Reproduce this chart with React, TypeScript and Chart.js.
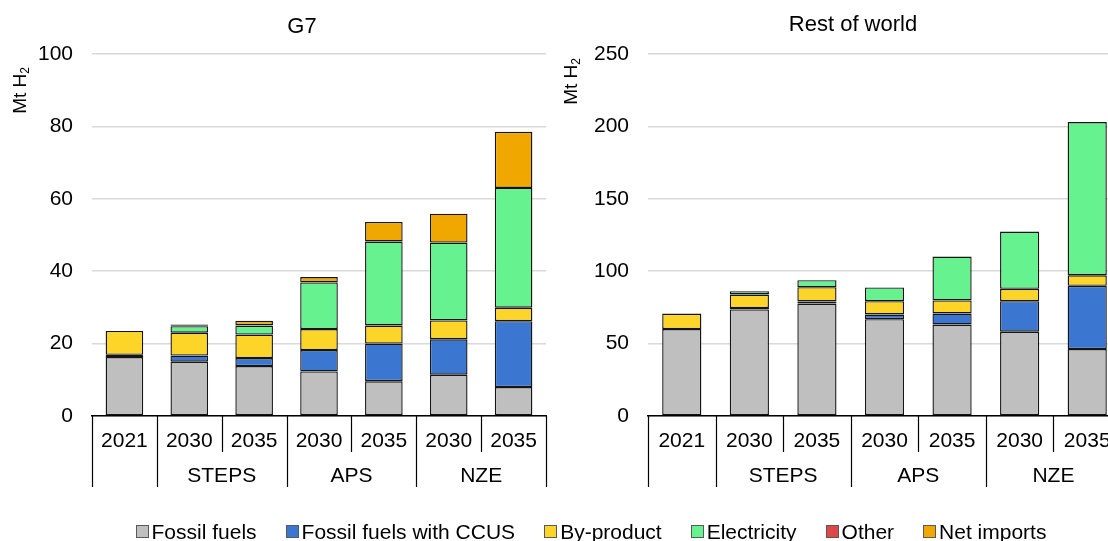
import React, { useEffect, useRef } from "react";
import { Chart, registerables } from "chart.js";

Chart.register(...registerables);

const FONT = "'Liberation Sans', Arial, sans-serif";

const years = ["2021", "2030", "2035", "2030", "2035", "2030", "2035"];
const scenarios = ["", "STEPS", "STEPS", "APS", "APS", "NZE", "NZE"];

const seriesNames = ["Fossil fuels", "Fossil fuels with CCUS", "By-product", "Electricity", "Other", "Net imports"];
const seriesColors = ["#bfbfbf", "#3b77d0", "#fdd428", "#66f28e", "#e04848", "#f0a800"];

// G7 (Mt H2)
const g7Fossil = [16.3, 15.0, 13.8, 12.3, 9.6, 11.4, 8.0];
const g7Ccus = [0.6, 1.7, 2.2, 5.9, 10.4, 9.8, 18.2];
const g7ByProduct = [6.6, 6.3, 6.5, 5.8, 5.0, 5.2, 3.7];
const g7Electricity = [0, 1.8, 2.5, 12.9, 23.2, 21.5, 33.1];
const g7Other = [0, 0.1, 0.1, 0, 0, 0, 0];
const g7NetImports = [0, 0.4, 1.2, 1.5, 5.4, 8.0, 15.5];

// Rest of world (Mt H2)
const rowFossil = [60.0, 73.6, 77.7, 66.9, 63.2, 58.2, 46.2];
const rowCcus = [0, 0.9, 1.4, 3.2, 7.6, 21.1, 43.7];
const rowByProduct = [10.8, 9.4, 9.9, 9.2, 9.0, 8.5, 7.3];
const rowElectricity = [0, 2.3, 4.8, 9.5, 30.3, 39.6, 105.8];
const rowOther = [0, 0, 0, 0, 0, 0, 0];
const rowNetImports = [0, 0, 0, 0, 0, 0, 0];

const g7Ticks = { max: 100, step: 20 };
const rowTicks = { max: 250, step: 50 };

type Panel = {
  title: string;
  series: number[][];
  yMax: number;
  yStep: number;
  axisWidth: number;
  padRight: number;
  titleX: number;
  titleY: number;
  yTitleX: number;
  yTitleTop: number;
};

function makePlugin(p: Panel) {
  return {
    id: "customDecor",
    afterDraw(chart: any) {
      const ctx = chart.ctx;
      const area = chart.chartArea;
      const xs = chart.scales.x;
      ctx.save();
      // title
      ctx.fillStyle = "#000";
      ctx.font = `22px ${FONT}`;
      ctx.textAlign = "center";
      ctx.textBaseline = "middle";
      ctx.fillText(p.title, p.titleX, p.titleY);

      // y axis title with subscript
      ctx.save();
      ctx.translate(p.yTitleX, p.yTitleTop);
      ctx.rotate(-Math.PI / 2);
      ctx.font = `19px ${FONT}`;
      const main = "Mt H";
      const w1 = ctx.measureText(main).width;
      ctx.font = `12px ${FONT}`;
      const w2 = ctx.measureText("2").width;
      const L = w1 + w2;
      ctx.textAlign = "left";
      ctx.textBaseline = "middle";
      ctx.font = `19px ${FONT}`;
      ctx.fillText(main, -L, 0);
      ctx.font = `12px ${FONT}`;
      ctx.fillText("2", -L + w1, 5);
      ctx.restore();

      // multi-level category axis
      const n = years.length;
      const edges: number[] = [];
      for (let i = 0; i <= n; i++) {
        if (i === 0) edges.push(area.left);
        else if (i === n) edges.push(area.right);
        else edges.push((xs.getPixelForValue(i - 1) + xs.getPixelForValue(i)) / 2);
      }
      ctx.strokeStyle = "#000";
      ctx.lineWidth = 1.2;
      for (let i = 0; i <= n; i++) {
        const full = i === 0 || i === n || scenarios[i] !== scenarios[i - 1];
        const x = Math.round(edges[i]) + 0.5;
        ctx.beginPath();
        ctx.moveTo(x, area.bottom);
        ctx.lineTo(x, area.bottom + (full ? 71 : 36));
        ctx.stroke();
      }
      ctx.font = `21px ${FONT}`;
      ctx.textAlign = "center";
      ctx.textBaseline = "middle";
      ctx.fillStyle = "#000";
      for (let i = 0; i < n; i++) {
        ctx.fillText(years[i], (edges[i] + edges[i + 1]) / 2, area.bottom + 25);
      }
      let start = 0;
      for (let i = 1; i <= n; i++) {
        if (i === n || scenarios[i] !== scenarios[start]) {
          if (scenarios[start]) {
            ctx.fillText(scenarios[start], (edges[start] + edges[i]) / 2, area.bottom + 60);
          }
          start = i;
        }
      }
      ctx.restore();
    },
  };
}

function PanelChart({ p, left, width }: { p: Panel; left: number; width: number }) {
  const ref = useRef<HTMLCanvasElement | null>(null);
  useEffect(() => {
    if (!ref.current) return;
    const chart = new Chart(ref.current, {
      type: "bar",
      data: {
        labels: years,
        datasets: seriesNames.map((name, k) => ({
          label: name,
          data: p.series[k],
          backgroundColor: seriesColors[k],
          borderColor: "#151515",
          borderWidth: 1.4,
          borderSkipped: false,
          barPercentage: 0.58,
          categoryPercentage: 1,
        })),
      },
      options: {
        animation: false,
        responsive: false,
        layout: { padding: { top: 54, bottom: 45, left: 0, right: p.padRight } },
        plugins: {
          legend: { display: false },
          title: { display: false },
          tooltip: { enabled: false },
        },
        scales: {
          x: {
            stacked: true,
            grid: { display: false },
            border: { display: true, color: "#000", width: 1.5 },
            ticks: { display: false },
            afterFit: (s: any) => {
              s.height = 80;
            },
          },
          y: {
            stacked: true,
            min: 0,
            max: p.yMax,
            ticks: {
              stepSize: p.yStep,
              padding: 19,
              color: "#000",
              font: { size: 21, family: FONT },
            },
            grid: { color: "#d9d9d9", lineWidth: 1.5, drawTicks: false },
            border: { display: false },
            afterFit: (s: any) => {
              s.width = p.axisWidth;
            },
          },
        },
      },
      plugins: [makePlugin(p)],
    } as any);
    return () => chart.destroy();
  }, []);
  return (
    <canvas
      ref={ref}
      width={width}
      height={541}
      style={{ position: "absolute", left, top: 0, width, height: 541 }}
    />
  );
}

const g7Panel: Panel = {
  title: "G7",
  series: [g7Fossil, g7Ccus, g7ByProduct, g7Electricity, g7Other, g7NetImports],
  yMax: g7Ticks.max,
  yStep: g7Ticks.step,
  axisWidth: 92,
  padRight: 14,
  titleX: 302,
  titleY: 27,
  yTitleX: 21,
  yTitleTop: 67,
};

const rowPanel: Panel = {
  title: "Rest of world",
  series: [rowFossil, rowCcus, rowByProduct, rowElectricity, rowOther, rowNetImports],
  yMax: rowTicks.max,
  yStep: rowTicks.step,
  axisWidth: 93,
  padRight: 14,
  titleX: 298,
  titleY: 25,
  yTitleX: 17,
  yTitleTop: 58,
};

export default function App() {
  return (
    <div
      style={{
        position: "fixed",
        left: 0,
        top: 0,
        width: 1108,
        height: 541,
        overflow: "hidden",
        background: "#fff",
      }}
    >
      <PanelChart p={g7Panel} left={0} width={560} />
      <PanelChart p={rowPanel} left={555} width={580} />
      <div
        style={{
          position: "absolute",
          left: 0,
          top: 521,
          width: 1182,
          display: "flex",
          justifyContent: "center",
          gap: 29,
          fontFamily: FONT,
          fontSize: 21,
          lineHeight: "21px",
          color: "#000",
          whiteSpace: "nowrap",
        }}
      >
        {seriesNames.map((name, k) => (
          <span key={name} style={{ display: "flex", alignItems: "center" }}>
            <span
              style={{
                display: "inline-block",
                width: 11,
                height: 11,
                background: seriesColors[k],
                border: "1px solid #595959",
                marginRight: 3,
              }}
            />
            {name}
          </span>
        ))}
      </div>
    </div>
  );
}
